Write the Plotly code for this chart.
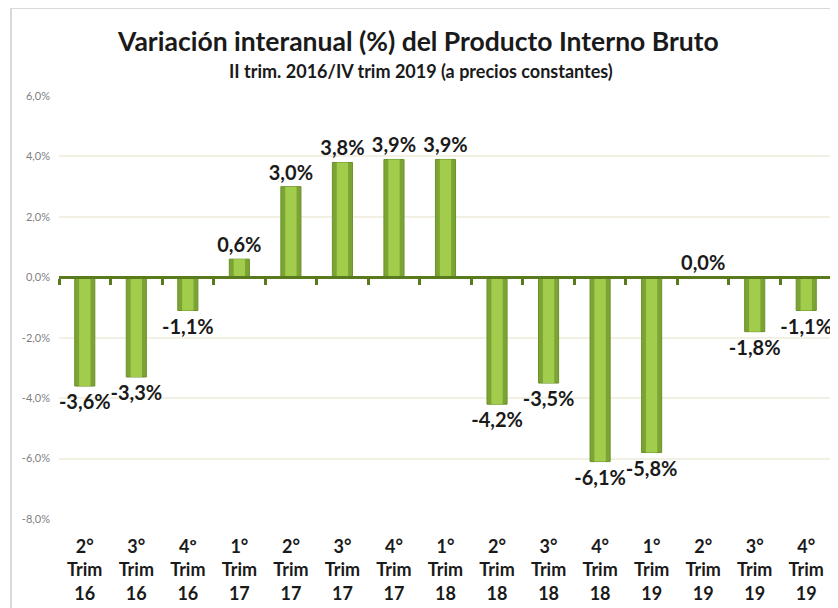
import plotly.graph_objects as go

quarters = ["2°<br>Trim<br>16", "3°<br>Trim<br>16", "4º<br>Trim<br>16", "1°<br>Trim<br>17",
            "2°<br>Trim<br>17", "3°<br>Trim<br>17", "4°<br>Trim<br>17", "1°<br>Trim<br>18",
            "2°<br>Trim<br>18", "3°<br>Trim<br>18", "4°<br>Trim<br>18", "1°<br>Trim<br>19",
            "2°<br>Trim<br>19", "3°<br>Trim<br>19", "4°<br>Trim<br>19"]
variation = [-3.6, -3.3, -1.1, 0.6, 3.0, 3.8, 3.9, 3.9, -4.2, -3.5, -6.1, -5.8, 0.0, -1.8, -1.1]
y_ticks = [-8, -6, -4, -2, 0, 2, 4, 6]
y_tick_text = [f"{v:.1f}%".replace(".", ",") for v in y_ticks]

# page is rendered with an 8px body margin, so the figure is 8px smaller
OFF = 8
W, H = 838 - OFF, 608 - OFF
L, R, T = 59 - OFF, 6, 96 - OFF
B = H - (519.5 - OFF)
pw, ph = W - L - R, H - T - B

FONT = "Lato"
DARK = "#5a7a1e"


def px_x(x):
    return (x - OFF - L) / pw


def px_y(y):
    return (H - B - (y - OFF)) / ph


fig = go.Figure()
fig.add_trace(go.Bar(
    x=quarters, y=variation, width=0.39,
    marker=dict(color="#7ca434", line=dict(color="#6a9128", width=1)),
    hoverinfo="skip", cliponaxis=False,
))
fig.add_trace(go.Bar(
    x=quarters, y=variation, width=0.22,
    marker=dict(color="#a2cd4c", line=dict(width=0)),
    texttemplate="%{y:.1f}%", textposition="outside", constraintext="none",
    textfont=dict(family=FONT, size=20, color="#1a1a1a", weight="bold"),
    cliponaxis=False,
))
# zero-line axis with tick marks
fig.add_trace(go.Bar(x=quarters, y=[None] * len(quarters), xaxis="x2", yaxis="y",
                     showlegend=False, hoverinfo="skip", cliponaxis=False))

fig.update_layout(
    width=W, height=H,
    margin=dict(l=L, r=R, t=T, b=B),
    paper_bgcolor="white", plot_bgcolor="white",
    separators=",.",
    showlegend=False,
    barmode="overlay",
    xaxis=dict(
        showline=False, ticks="", showgrid=False,
        tickfont=dict(family=FONT, size=18, color="#1a1a1a", weight="bold"),
        ticklabelstandoff=15, automargin=False,
    ),
    xaxis2=dict(
        overlaying="x", anchor="free", position=8 / 14, matches="x",
        showline=True, linecolor=DARK, linewidth=3,
        ticks="outside", tickson="boundaries", ticklen=6, tickwidth=3, tickcolor=DARK,
        showticklabels=False, showgrid=False,
    ),
    yaxis=dict(
        range=[-8, 6], tickvals=y_ticks, ticktext=y_tick_text,
        showgrid=True, gridcolor="#f1f0e2", gridwidth=1.5,
        zeroline=False, showline=False,
        tickfont=dict(family=FONT, size=11, color="#7f7f7f"),
        ticklabelstandoff=8,
    ),
    annotations=[
        dict(text="Variación interanual (%) del Producto Interno Bruto",
             xref="paper", yref="paper", x=px_x(418), y=px_y(41),
             xanchor="center", yanchor="middle", showarrow=False,
             font=dict(family=FONT, size=26.5, color="#1a1a1a", weight="bold")),
        dict(text="II trim. 2016/IV trim 2019 (a precios constantes)",
             xref="paper", yref="paper", x=px_x(421), y=px_y(71),
             xanchor="center", yanchor="middle", showarrow=False,
             font=dict(family=FONT, size=18, color="#1a1a1a", weight="bold")),
    ],
    shapes=[
        dict(type="rect", xref="paper", yref="paper",
             x0=px_x(11), y0=-0.5, x1=1.2, y1=px_y(8),
             line=dict(color="#d9d9d9", width=2), layer="below"),
    ],
)

fig.write_html("out.html")
